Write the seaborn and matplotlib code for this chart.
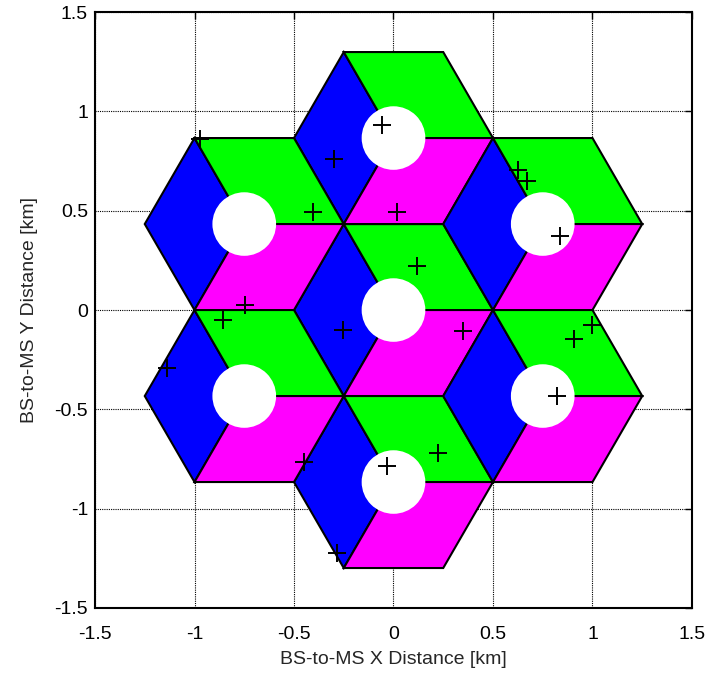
"""Hexagonal 7-cell layout with 3 sectors per cell and MS drop points."""
import matplotlib

matplotlib.use("Agg")

import matplotlib.pyplot as plt
import numpy as np
import pandas as pd
import seaborn as sns
from matplotlib.patches import Circle, Polygon

# cell layout (km)
cell_x = [0.0, 0.0, 0.0, 0.75, -0.75, 0.75, -0.75]
cell_y = [0.0, 0.866, -0.866, 0.433, 0.433, -0.433, -0.433]
cell_radius = 0.5
hole_radius = 0.16

# sectors: start angle of each rhombus (deg) and its colour
sector_start = [120, 0, 240]
sector_colors = ["#0000ff", "#00ff00", "#ff00ff"]

# mobile station positions (km)
ms_x = [-0.97, -0.056, -0.299, -0.403, -0.746, -0.858, 0.624, 0.669, 0.837, 0.016, 0.120,
        -0.255, -1.140, -0.448, -0.282, -0.034, 0.348, 0.996, 0.907, 0.820, 0.225]
ms_y = [0.86, 0.931, 0.763, 0.495, 0.025, -0.050, 0.705, 0.649, 0.372, 0.495, 0.221,
        -0.101, -0.294, -0.767, -1.225, -0.784, -0.104, -0.075, -0.148, -0.431, -0.721]

ticks = [-1.5, -1.0, -0.5, 0.0, 0.5, 1.0, 1.5]
tick_labels = ["-1.5", "-1", "-0.5", "0", "0.5", "1", "1.5"]

sns.set_style("white")
plt.rcParams["font.family"] = ["Liberation Sans", "DejaVu Sans"]
plt.rcParams["axes.unicode_minus"] = False

fig = plt.figure(figsize=(7.09, 6.74), dpi=100)
ax = fig.add_axes([0.134, 0.098, 0.842, 0.884])

for cx, cy in zip(cell_x, cell_y):
    for start, color in zip(sector_start, sector_colors):
        ang = np.radians([start, start + 60, start + 120])
        verts = [(cx, cy)] + [(cx + cell_radius * np.cos(a), cy + cell_radius * np.sin(a)) for a in ang]
        ax.add_patch(Polygon(verts, closed=True, facecolor=color, edgecolor="black",
                             linewidth=1.5, zorder=2))
    ax.add_patch(Circle((cx, cy), hole_radius, facecolor="white", edgecolor="none", zorder=3))

ms = pd.DataFrame({"x": ms_x, "y": ms_y})
sns.scatterplot(data=ms, x="x", y="y", marker="+", s=160, color="black",
                linewidth=1.4, ax=ax, zorder=4)

ax.set_xlim(-1.5, 1.5)
ax.set_ylim(-1.5, 1.5)
ax.set_xticks(ticks)
ax.set_xticklabels(tick_labels)
ax.set_yticks(ticks)
ax.set_yticklabels(tick_labels)
ax.tick_params(direction="in", length=5, width=1, top=True, right=True,
               labelsize=14, colors="black")
ax.tick_params(axis="x", pad=13)
ax.tick_params(axis="y", pad=5)
ax.grid(True, color="black", linestyle=(0, (1, 1)), linewidth=0.8)
ax.set_axisbelow(True)
for spine in ax.spines.values():
    spine.set_color("black")
    spine.set_linewidth(1.5)
    spine.set_zorder(5)

ax.set_xlabel("BS-to-MS X Distance [km]", fontsize=14, labelpad=6)
ax.set_ylabel("BS-to-MS Y Distance [km]", fontsize=14, labelpad=12)

fig.savefig("out.png", dpi=100)
plt.close(fig)
